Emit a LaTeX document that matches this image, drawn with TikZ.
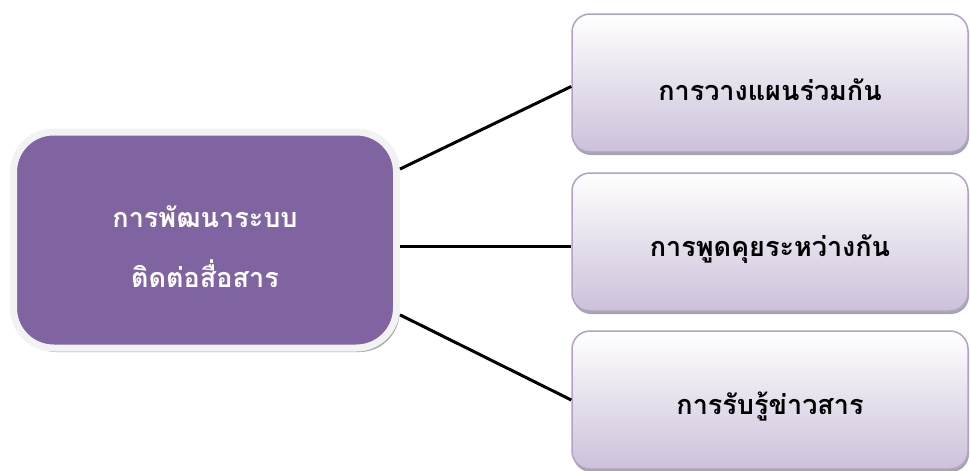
\documentclass[tikz,border=0pt]{standalone}
\usepackage{fontspec}
\newfontfamily\thaifont[Script=Thai]{Loma}
\usetikzlibrary{shadows}
\definecolor{boxpurple}{HTML}{8064A2}
\definecolor{rimgray}{HTML}{F2F2F2}
\definecolor{edgelilac}{HTML}{B3A2C7}
\definecolor{filllilac}{HTML}{CCC1DA}
\newcommand{\dropline}[1]{\raisebox{-7pt}[\height][\depth]{#1}}
\begin{document}
\begin{tikzpicture}[x=1pt, y=-1pt,
    mainbox/.style={rectangle, rounded corners=40pt, fill=boxpurple, draw=rimgray, line width=7pt,
      minimum width=383pt, minimum height=216pt, text=white, align=center,
      font=\thaifont\bfseries\fontsize{27}{60}\selectfont,
      drop shadow={shadow xshift=3pt, shadow yshift=-4pt, fill=black!35, opacity=1}},
    sidebox/.style={rectangle, rounded corners=18pt, top color=white, bottom color=filllilac,
      draw=edgelilac, line width=1.5pt, minimum width=396pt, minimum height=138pt,
      font=\thaifont\bfseries\fontsize{27}{30}\selectfont,
      drop shadow={shadow xshift=1pt, shadow yshift=-3pt, fill=black!35, opacity=1}},
    link/.style={line width=3pt, black}]
  \useasboundingbox (0,0) rectangle (970,471);
  \node[mainbox] (main) at (205,240) {\dropline{การพัฒนาระบบ}\\\dropline{ติดต่อสื่อสาร}};
  \node[sidebox] (plan) at (770,83) {\dropline{การวางแผนร่วมกัน}};
  \node[sidebox] (talk) at (770,242) {\dropline{การพูดคุยระหว่างกัน}};
  \node[sidebox] (news) at (770,400) {\dropline{การรับรู้ข่าวสาร}};
  \draw[link] (main.20) -- (plan.181);
  \draw[link] (main.-2) -- (main.-2 -| talk.west);
  \draw[link] (main.-21) -- (news.west);
\end{tikzpicture}
\end{document}
